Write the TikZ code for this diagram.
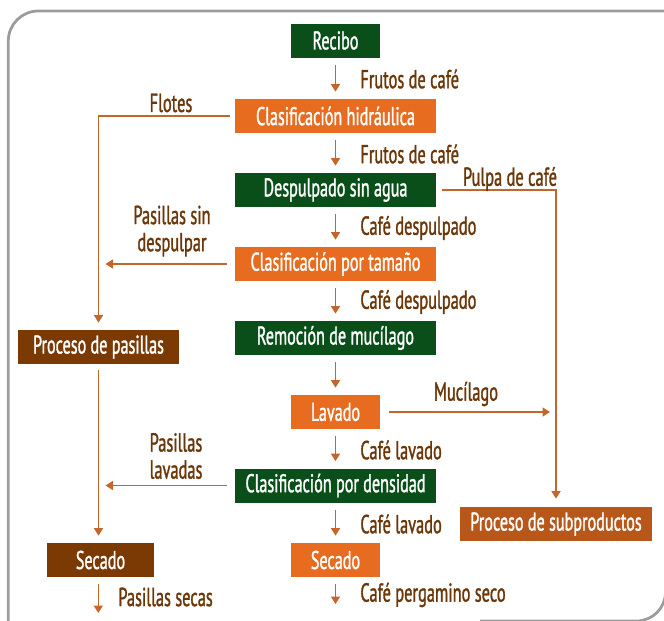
\documentclass[tikz,border=0pt]{standalone}
\usepackage{fontspec}
\setmainfont{PT Sans}[FakeStretch=0.63,FakeBold=1.2]
\usetikzlibrary{arrows.meta}
\usetikzlibrary{positioning}
\definecolor{verde}{HTML}{0A4F1A}
\definecolor{naranja}{HTML}{E86C20}
\definecolor{cafe}{HTML}{7B3904}
\definecolor{cobre}{HTML}{B8571A}
\definecolor{flecha}{HTML}{C4652A}
\definecolor{texto}{HTML}{6B3608}
\definecolor{marco}{HTML}{9C9C9C}
\tikzset{>={Triangle[length=1.5mm,width=1.8mm]}}
\tikzset{
  caja/.style={text=white, minimum height=6.8mm, inner sep=0pt,
    font=\fontsize{14.6}{16}\selectfont},
  larga/.style={caja, minimum width=40.2mm},
  corta/.style={caja, minimum width=17.8mm},
  rotulo/.style={text=texto, inner sep=0pt, align=center,
    font=\fontsize{14.8}{15.4}\selectfont},
  paso/.style={->, draw=flecha, line width=0.3mm,
    shorten <=1.4mm, shorten >=1.4mm},
  lado/.style={paso, shorten <=1.4mm}
}

\begin{document}
\begin{tikzpicture}[x=0.2mm,y=-0.2mm]
        \useasboundingbox (0,0) rectangle (664,620);
        \draw[marco, line width=0.55mm, rounded corners=6mm] (8.3,640) -- (8.3,11) -- (690,11);
        \draw[marco, line width=0.55mm, rounded corners=5.8mm] (665.5,480) -- (665.5,621) -- (480,621);

        \node[larga, corta, fill=verde] (recibo) at (335.5,40.5) {Recibo};
        \node[larga, fill=naranja] (hidra) at (335.5,116) {Clasificación hidráulica};
        \node[larga, fill=verde] (despulpado) at (335.5,190) {Despulpado sin agua};
        \node[larga, fill=naranja] (tamano) at (335.5,264) {Clasificación por tamaño};
        \node[larga, fill=verde] (remocion) at (335.5,338) {Remoción de mucílago};
        \node[corta, fill=naranja] (lavado) at (335.5,412) {Lavado};
        \node[larga, fill=verde] (densidad) at (335.5,485.5) {Clasificación por densidad};
        \node[corta, fill=naranja] (secado) at (335.5,560) {Secado};
        \node[caja, minimum width=32.2mm, fill=cafe] (pasillas) at (98.5,347) {Proceso de pasillas};
        \node[caja, minimum width=21.4mm, fill=cafe] (secadop) at (100.5,560) {Secado};
        \node[caja, minimum width=38.4mm, fill=cobre] (subprod) at (556,524) {Proceso de subproductos};
        \coordinate (fin) at (335.5,611);
        \coordinate (finp) at (98.3,613);

        \draw[paso] (recibo) -- (hidra);
        \draw[paso] (hidra) -- (despulpado);
        \draw[paso] (despulpado) -- (tamano);
        \draw[paso] (tamano) -- (remocion);
        \draw[paso] (remocion) -- (lavado);
        \draw[paso] (lavado) -- (densidad);
        \draw[paso] (densidad) -- (secado);
        \draw[paso] (secado) -- (fin);
        \draw[paso, shorten >=0pt] (secadop.south -| finp) -- (finp);

        \draw[lado, shorten <=1mm] (hidra.west) -| (pasillas.north);
        \draw[lado, shorten <=1.6mm] (tamano.west) -- (tamano.west -| pasillas.north);
        \draw[lado, shorten <=1.1mm] (pasillas.south) -- (pasillas.south |- secadop.north);
        \draw[lado, shorten <=1.6mm] (densidad.west) -- (densidad.west -| pasillas.north);
        \draw[lado, shorten <=1.2mm, shorten >=1.6mm] (despulpado.east) -| (subprod.north);
        \draw[lado, shorten <=1.7mm, shorten >=1.2mm] (lavado.east) -- (lavado.east -| subprod.north);

        \node[rotulo, anchor=west] (frutos1) at (360,79) {Frutos de café};
        \node[rotulo, anchor=west] (frutos2) at (360,154) {Frutos de café};
        \node[rotulo, anchor=west] (desp1) at (360,228) {Café despulpado};
        \node[rotulo, anchor=west] (desp2) at (360,302) {Café despulpado};
        \node[rotulo, anchor=west] (lav1) at (360,450) {Café lavado};
        \node[rotulo, anchor=west] (lav2) at (360,524) {Café lavado};
        \node[rotulo, anchor=west] (pergamino) at (360,595) {Café pergamino seco};
        \node[rotulo, anchor=west] (secas) at (118,597) {Pasillas secas};
        \node[rotulo] (flotes) at (171,103) {Flotes};
        \node[rotulo] (sindesp) at (172,231) {Pasillas sin\\despulpar};
        \node[rotulo] (lavadas) at (176,456) {Pasillas\\lavadas};
        \node[rotulo] (pulpa) at (510,179) {Pulpa de café};
        \node[rotulo] (mucilago) at (466,394) {Mucílago};
      \end{tikzpicture}
\end{document}
